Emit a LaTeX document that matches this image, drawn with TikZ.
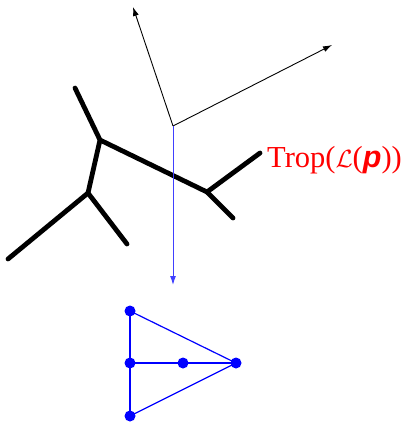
\documentclass[tikz,border=0pt]{standalone}
\usepackage{fontspec}
\setmainfont{Liberation Serif}
\newfontfamily\sansbi{Liberation Sans}
\usetikzlibrary{arrows.meta}
\tikzset{
  edge/.style={line width=4.8pt, line cap=round, black},
  axis/.style={line width=0.9pt, black, -{Latex[length=9pt,width=6pt]}},
  proj/.style={line width=1pt, blue!75, -{Latex[length=9pt,width=6pt]}},
  poly/.style={line width=1.2pt, blue},
  dot/.style={circle, fill=blue, inner sep=0pt, minimum size=11pt},
}
\begin{document}
\begin{tikzpicture}[x=1pt,y=-1pt]
\useasboundingbox (0,0) rectangle (406,422);
% axes
\coordinate (O) at (173,126);
\coordinate (e1) at (133,7);
\coordinate (e2) at (332,45);
\draw[axis] (O) -- (e1);
\draw[axis] (O) -- (e2);
% tropical curve
\coordinate (A) at (100,140);
\coordinate (B) at (88,193);
\coordinate (C) at (207,192);
\coordinate (At) at (75,88);
\coordinate (Bl) at (8,259);
\coordinate (Bd) at (127,244);
\coordinate (Cu) at (260,153);
\coordinate (Cd) at (233,218);
\draw[edge] (At) -- (A) -- (B) -- (Bl);
\draw[edge] (B) -- (Bd);
\draw[edge] (A) -- (C) -- (Cu);
\draw[edge] (C) -- (Cd);
% projection
\coordinate (P) at (173,285);
\draw[proj] (O) -- (P);
% label
\node[anchor=base west, inner sep=0pt, text=red, font=\fontsize{30.5}{33}\selectfont] (lab) at (267,167)
  {Trop($\mathcal{L}$(\textbf{\textit{\sansbi p}}))};
% Newton polytope
\node[dot] (n1) at (130,311) {};
\node[dot] (n2) at (130,363) {};
\node[dot] (n3) at (183,363) {};
\node[dot] (n4) at (236,363) {};
\node[dot] (n5) at (130,416) {};
\draw[poly] (n1.center) -- (n4.center) -- (n5.center);
\draw[poly] (n1.center) -- (n2.center) -- (n5.center);
\draw[poly] (n2.center) -- (n3.center) -- (n4.center);
\end{tikzpicture}
\end{document}
